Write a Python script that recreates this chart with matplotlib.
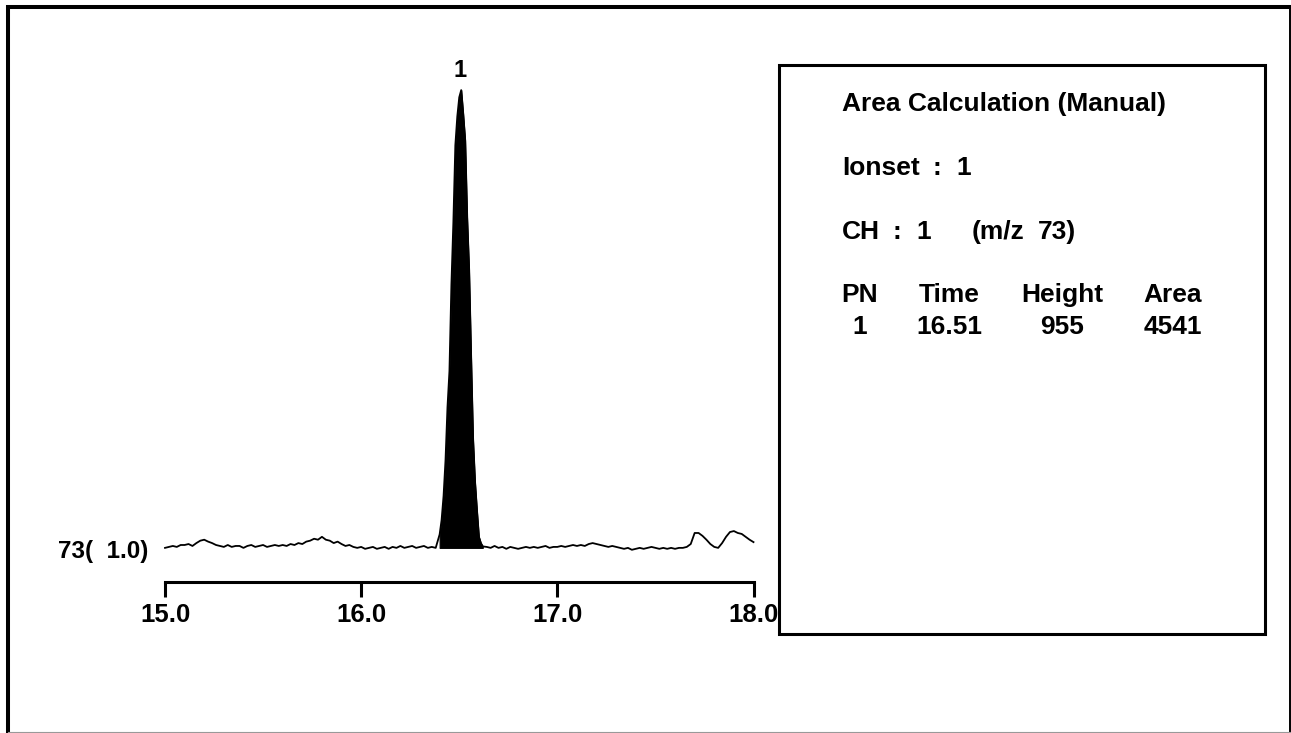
import numpy as np
import matplotlib
matplotlib.use("Agg")
from matplotlib import pyplot as plt
from matplotlib.patches import Rectangle
from matplotlib.lines import Line2D

plt.rcParams['font.family'] = ['Liberation Sans', 'DejaVu Sans']
plt.rcParams['font.weight'] = 'bold'

W, H = 1291, 733

# scan grid of the baseline trace (min), 0.02 min steps
scan_time = np.round(np.arange(15.0, 18.0001, 0.02), 2)
# counts off the baseline, scans outside the peak window (16.40 - 16.62)
base_counts = [
    2, 4, 6, 4, 8,  8, 10, 6, 12, 17,  19, 15, 12, 8, 6,  4, 8, 4, 6, 6,
    2, 6, 8, 4, 6,  8, 4, 6, 8, 6,  8, 6, 10, 8, 12,  10, 15, 17, 21, 19,
    25, 19, 17, 12, 15,  10, 6, 8, 4, 2,  4, 0, 2, 4, 0,  2, 4, 0, 4, 2,
    6, 2, 4, 6, 2,  4, 6, 2, 4, 2,
    4, 2, 6,
    2, 4, 0, 4, 2,  0, 2, 4, 2, 4,  2, 4, 6, 2, 4,  4, 6, 4, 6, 8,
    6, 8, 6, 10, 12,  10, 8, 6, 4, 6,  4, 2, 0, 2, -2,  0, 2, 0, 2, 4,
    2, 0, 2, 0, 2,  0, 2, 2, 4, 10,  33, 33, 27, 19, 10,  4, 2, 12, 25, 35,
    37, 33, 31, 25, 19,
    14,
]

# peak 1, finer scans
peak_time = [16.40, 16.41, 16.42, 16.43, 16.44, 16.45, 16.46, 16.47, 16.48,
             16.49, 16.50, 16.51, 16.52, 16.53, 16.54, 16.55, 16.56, 16.57,
             16.58, 16.59, 16.60, 16.61, 16.62]
peak_counts = [30, 60, 110, 185, 295, 370, 550, 680, 840, 900, 940, 955, 905,
               850, 690, 580, 400, 230, 140, 80, 25, 12, 5]

tick_vals = [15.0, 16.0, 17.0, 18.0]
tick_labels = ["15.0", "16.0", "17.0", "18.0"]

header = ["PN", "Time", "Height", "Area"]
row = ["1", "16.51", "955", "4541"]

mask = (scan_time < 16.395) | (scan_time > 16.625)
bt = scan_time[mask]
assert len(bt) == len(base_counts)
t = np.concatenate([bt, peak_time])
c = np.concatenate([base_counts, peak_counts])
order = np.argsort(t)
t, c = t[order], c[order]


def fx(x):
    return x / W


def fy(y):
    return 1 - y / H


fig = plt.figure(figsize=(W / 100, H / 100), dpi=100)
fig.patch.set_facecolor("white")

# axes: x 165..753.5 px, bottom 581.5 px, top 80 px
ax = fig.add_axes([fx(165), fy(581.5), fx(753.5) - fx(165), fy(80) - fy(581.5)])
ax.set_xlim(15.0, 18.0)
ax.set_ylim(-68, 976)
ax.plot(t, c, color="black", lw=1.3, clip_on=False)
ax.fill_between(peak_time, 2, peak_counts, color="black", lw=0.8)

for s in ["top", "right", "left"]:
    ax.spines[s].set_visible(False)
ax.spines["bottom"].set_linewidth(2.2)
ax.set_yticks([])
ax.set_xticks(tick_vals)
ax.set_xticklabels(tick_labels, fontsize=18.5, fontweight="bold")
ax.tick_params(axis="x", direction="out", length=10.8, width=2.2, pad=5)
ax.patch.set_alpha(0)

# peak number and channel label
fig.text(fx(460), fy(77), "1", fontsize=17, ha="center", va="baseline")
fig.text(fx(148), fy(558), "73(  1.0)", fontsize=17.5, ha="right", va="baseline")

# outer frame: thick left/top, thin right/bottom at the image edge
fig.add_artist(Line2D([fx(8), fx(8), fx(1289.5)], [fy(733), fy(7), fy(7)],
                      transform=fig.transFigure, lw=2.9, color="black",
                      solid_joinstyle="miter"))
fig.add_artist(Line2D([fx(1289.5), fx(1289.5)], [fy(7), fy(733)],
                      transform=fig.transFigure, lw=1.4, color="black"))
fig.add_artist(Line2D([fx(8), fx(1291)], [fy(732.2), fy(732.2)],
                      transform=fig.transFigure, lw=0.8, color="#999999"))
# info box
fig.add_artist(Rectangle((fx(778.5), fy(633.5)), fx(1264.5) - fx(778.5),
                         fy(64.5) - fy(633.5), transform=fig.transFigure,
                         fill=False, lw=2.2, ec="black"))

fs = 19
fig.text(fx(842), fy(111), "Area Calculation (Manual)", fontsize=fs, va="baseline")
fig.text(fx(842), fy(175), "Ionset", fontsize=fs, va="baseline")
fig.text(fx(937), fy(175), ":", fontsize=fs, va="baseline", ha="center")
fig.text(fx(964), fy(175), "1", fontsize=fs, va="baseline", ha="center")
fig.text(fx(842), fy(239), "CH", fontsize=fs, va="baseline")
fig.text(fx(897), fy(239), ":", fontsize=fs, va="baseline", ha="center")
fig.text(fx(924), fy(239), "1", fontsize=fs, va="baseline", ha="center")
fig.text(fx(972), fy(239), "(m/z", fontsize=fs, va="baseline")
fig.text(fx(1038), fy(239), "73)", fontsize=fs, va="baseline")

col_x = [860, 949, 1062, 1173]
for x, h, v in zip(col_x, header, row):
    fig.text(fx(x), fy(302), h, fontsize=fs, va="baseline", ha="center")
    fig.text(fx(x), fy(334), v, fontsize=fs, va="baseline", ha="center")

fig.savefig("out.png", dpi=100)
